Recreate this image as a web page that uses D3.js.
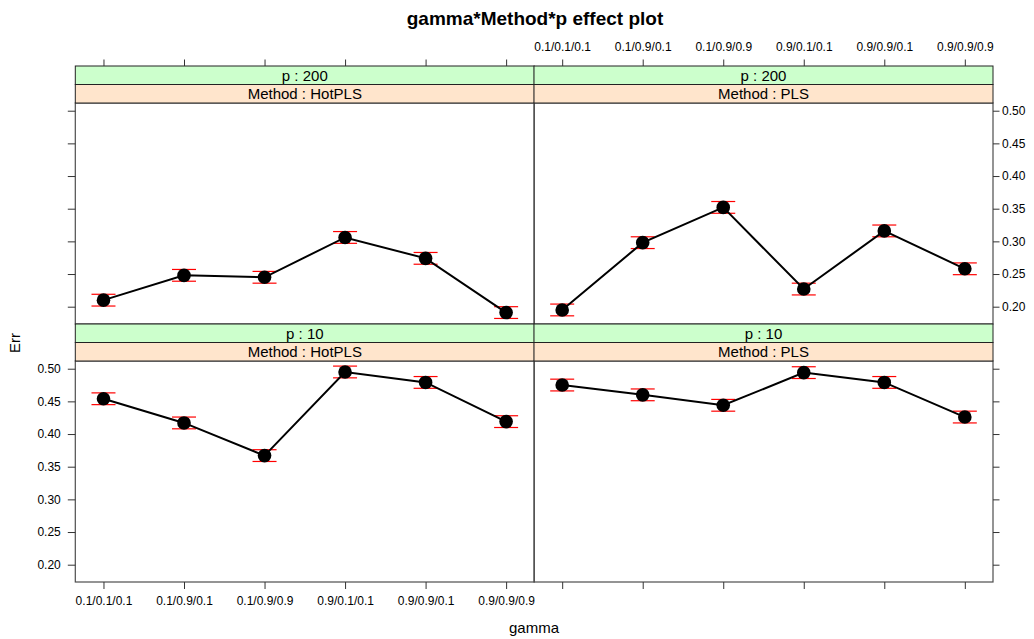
<!DOCTYPE html>
<html>
<head>
<meta charset="utf-8">
<script src="https://cdn.jsdelivr.net/npm/d3@7"></script>
<style>
  html, body { margin: 0; padding: 0; background: #fff; }
  svg { display: block; font-family: "Liberation Sans", Arial, Helvetica, sans-serif; }
</style>
</head>
<body>
<svg id="chart" width="1034" height="639"></svg>
<script>
// gamma levels shared by every panel
const gammaLevels = ["0.1/0.1/0.1", "0.1/0.9/0.1", "0.1/0.9/0.9", "0.9/0.1/0.1", "0.9/0.9/0.1", "0.9/0.9/0.9"];
const yTicks = [0.20, 0.25, 0.30, 0.35, 0.40, 0.45, 0.50];

// Fitted Err with confidence limits, p = 200
const hot200 = [0.210, 0.248, 0.245, 0.306, 0.274, 0.191];
const hot200Lo = [0.201, 0.239, 0.236, 0.297, 0.265, 0.182];
const hot200Hi = [0.219, 0.257, 0.254, 0.315, 0.283, 0.200];
const pls200 = [0.195, 0.298, 0.352, 0.227, 0.316, 0.258];
const pls200Lo = [0.186, 0.289, 0.343, 0.218, 0.307, 0.249];
const pls200Hi = [0.204, 0.307, 0.361, 0.236, 0.325, 0.267];

// Fitted Err with confidence limits, p = 10
const hot10 = [0.454, 0.417, 0.367, 0.495, 0.479, 0.419];
const hot10Lo = [0.445, 0.408, 0.358, 0.486, 0.470, 0.410];
const hot10Hi = [0.463, 0.426, 0.376, 0.504, 0.488, 0.428];
const pls10 = [0.475, 0.460, 0.444, 0.494, 0.479, 0.426];
const pls10Lo = [0.466, 0.451, 0.435, 0.485, 0.470, 0.417];
const pls10Hi = [0.484, 0.469, 0.453, 0.503, 0.488, 0.435];

const panels = [
  { p: "200", method: "HotPLS", col: 0, row: 0, fit: hot200, lo: hot200Lo, hi: hot200Hi },
  { p: "200", method: "PLS",    col: 1, row: 0, fit: pls200, lo: pls200Lo, hi: pls200Hi },
  { p: "10",  method: "HotPLS", col: 0, row: 1, fit: hot10,  lo: hot10Lo,  hi: hot10Hi },
  { p: "10",  method: "PLS",    col: 1, row: 1, fit: pls10,  lo: pls10Lo,  hi: pls10Hi }
];

const svg = d3.select("#chart");

// layout
const colX = [75.3, 534];
const panelW = 459;
const stripH = 18.5;
const rowTop = [66, 324];        // top of strips
const plotH = 221;
const yDomain = [0.1735, 0.5118];

const red = "#ff0000";
const borderCol = "#4d4d4d";

svg.append("text")
  .attr("x", 535).attr("y", 25)
  .attr("text-anchor", "middle")
  .attr("font-size", 19).attr("font-weight", "bold")
  .text("gamma*Method*p effect plot");

panels.forEach(pn => {
  const x0 = colX[pn.col];
  const stripTop = rowTop[pn.row];
  const plotTop = stripTop + 2 * stripH;
  const plotBottom = plotTop + plotH;

  const x = d3.scalePoint().domain(gammaLevels).range([x0, x0 + panelW]).padding(0.35);
  const y = d3.scaleLinear().domain(yDomain).range([plotBottom, plotTop]);

  const g = svg.append("g");

  // confidence bars
  const bars = g.append("g");
  gammaLevels.forEach((lev, i) => {
    const cx = x(lev);
    bars.append("line")
      .attr("x1", cx).attr("x2", cx)
      .attr("y1", y(pn.lo[i])).attr("y2", y(pn.hi[i]))
      .attr("stroke", red).attr("stroke-width", 1);
    [pn.lo[i], pn.hi[i]].forEach(v => {
      bars.append("line")
        .attr("x1", cx - 12).attr("x2", cx + 12)
        .attr("y1", y(v)).attr("y2", y(v))
        .attr("stroke", red).attr("stroke-width", 1.2);
    });
  });

  // fitted line and points
  const line = d3.line().x((d, i) => x(gammaLevels[i])).y(d => y(d));
  g.append("path")
    .attr("d", line(pn.fit))
    .attr("fill", "none").attr("stroke", "#000").attr("stroke-width", 2);
  g.selectAll("circle.pt").data(pn.fit).enter().append("circle")
    .attr("class", "pt")
    .attr("cx", (d, i) => x(gammaLevels[i]))
    .attr("cy", d => y(d))
    .attr("r", 6.8)
    .attr("fill", "#000");

  // panel border
  g.append("rect")
    .attr("x", x0).attr("y", plotTop).attr("width", panelW).attr("height", plotH)
    .attr("fill", "none").attr("stroke", borderCol).attr("stroke-width", 1.2);

  // strips: outer p (green), inner Method (orange)
  const strips = [
    { label: "p : " + pn.p, fill: "#ccffcc", top: stripTop },
    { label: "Method : " + pn.method, fill: "#ffe5cc", top: stripTop + stripH }
  ];
  strips.forEach(s => {
    g.append("rect")
      .attr("x", x0).attr("y", s.top).attr("width", panelW).attr("height", stripH)
      .attr("fill", s.fill).attr("stroke", "#222").attr("stroke-width", 1);
    g.append("text")
      .attr("x", x0 + panelW / 2).attr("y", s.top + stripH / 2 + 5.3)
      .attr("text-anchor", "middle").attr("font-size", 15)
      .text(s.label);
  });

  // axes: alternating sides, labels only on the outer edges
  const fmt = d3.format(".2f");
  if (pn.row === 0) {
    const ax = d3.axisTop(x).tickSize(6.5).tickPadding(9).tickSizeOuter(0);
    if (pn.col === 0) ax.tickFormat("");
    const a = svg.append("g").attr("transform", `translate(0,${stripTop})`).call(ax);
    styleAxis(a);
  } else {
    const ax = d3.axisBottom(x).tickSize(7).tickPadding(7).tickSizeOuter(0);
    if (pn.col === 1) ax.tickFormat("");
    const a = svg.append("g").attr("transform", `translate(0,${plotBottom})`).call(ax);
    styleAxis(a);
  }
  if (pn.col === 0) {
    const ax = d3.axisLeft(y).tickValues(yTicks).tickSize(7.5).tickPadding(7).tickSizeOuter(0).tickFormat(fmt);
    if (pn.row === 0) ax.tickFormat("");
    const a = svg.append("g").attr("transform", `translate(${x0},0)`).call(ax);
    styleAxis(a);
  } else {
    const ax = d3.axisRight(y).tickValues(yTicks).tickSize(6.5).tickPadding(2.5).tickSizeOuter(0).tickFormat(fmt);
    if (pn.row === 1) ax.tickFormat("");
    const a = svg.append("g").attr("transform", `translate(${x0 + panelW},0)`).call(ax);
    styleAxis(a);
  }
});

function styleAxis(a) {
  a.select(".domain").remove();
  a.selectAll(".tick line").attr("stroke", "#333").attr("stroke-width", 1);
  a.selectAll(".tick text")
    .attr("font-family", "\"Liberation Sans\", Arial, Helvetica, sans-serif")
    .attr("font-size", 12).attr("fill", "#000");
}

// axis titles
svg.append("text")
  .attr("x", 534).attr("y", 633)
  .attr("text-anchor", "middle").attr("font-size", 15)
  .text("gamma");
svg.append("text")
  .attr("transform", "translate(20,343) rotate(-90)")
  .attr("text-anchor", "middle").attr("font-size", 15)
  .text("Err");
</script>
</body>
</html>
